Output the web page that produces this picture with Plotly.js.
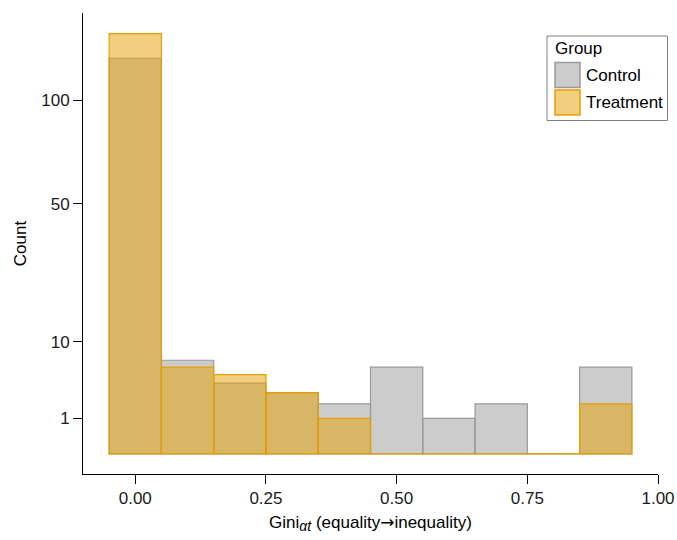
<!DOCTYPE html>
<html>
<head>
<meta charset="utf-8">
<script src="https://cdn.plot.ly/plotly-3.0.1.min.js"></script>
<style>html,body{margin:0;padding:0;background:#fff;}#chart{width:677px;height:540px;}</style>
</head>
<body>
<div id="chart"></div>
<script>
// Bin centres (bin width 0.1) of Gini_αt
const binCenters = [0.0, 0.1, 0.2, 0.3, 0.4, 0.5, 0.6, 0.7, 0.8, 0.9];
const controlCounts = [125, 7, 4, 3, 2, 6, 1, 2, 0, 6];
const treatmentCounts = [141, 6, 5, 3, 1, 0, 0, 0, 0, 2];
const groupNames = ["Control", "Treatment"];
const yTickValues = [1, 10, 50, 100];
const xTickValues = [0, 0.25, 0.5, 0.75, 1.0];
const xTickLabels = ["0.00", "0.25", "0.50", "0.75", "1.00"];

const FONT = "Liberation Sans, Arial, Helvetica, sans-serif";
const ctrlFill = "rgba(153,153,153,0.5)", ctrlLine = "#999999";
const trtFill = "rgba(230,159,0,0.5)", trtLine = "#E69F00";

const sqrt = v => Math.sqrt(v);

const traces = [
  {
    type: "bar", name: groupNames[0], x: binCenters, y: controlCounts.map(sqrt),
    width: 0.1, customdata: controlCounts,
    hovertemplate: "%{x}: %{customdata}<extra>Control</extra>",
    marker: {color: ctrlFill, line: {color: ctrlLine, width: 1.2}},
    showlegend: false
  },
  {
    type: "bar", name: groupNames[1], x: binCenters, y: treatmentCounts.map(sqrt),
    width: 0.1, customdata: treatmentCounts,
    hovertemplate: "%{x}: %{customdata}<extra>Treatment</extra>",
    marker: {color: trtFill, line: {color: trtLine, width: 1.2}},
    showlegend: false
  }
];

// manual legend (paper coords)
const L = 83, R = 658, T = 13, B = 474;
const px = v => (v - L) / (R - L);
const py = v => (B - v) / (B - T);

const shapes = [
  {type: "rect", xref: "paper", yref: "paper", x0: px(547), x1: px(667.5), y0: py(120.5), y1: py(36),
   line: {color: "#808080", width: 1}, fillcolor: "#ffffff"},
  {type: "rect", xref: "paper", yref: "paper", x0: px(555), x1: px(580), y0: py(87.5), y1: py(62.5),
   line: {color: ctrlLine, width: 1.5}, fillcolor: ctrlFill},
  {type: "rect", xref: "paper", yref: "paper", x0: px(555), x1: px(580), y0: py(115), y1: py(90),
   line: {color: trtLine, width: 1.5}, fillcolor: trtFill}
];
const annFont = {family: FONT, size: 17, color: "#000"};
const annotations = [
  {xref: "paper", yref: "paper", x: px(553), y: py(49), text: "Group", showarrow: false, xanchor: "left", yanchor: "middle", font: annFont},
  {xref: "paper", yref: "paper", x: px(584), y: py(75), text: groupNames[0], showarrow: false, xanchor: "left", yanchor: "middle", font: annFont},
  {xref: "paper", yref: "paper", x: px(584), y: py(102), text: groupNames[1], showarrow: false, xanchor: "left", yanchor: "middle", font: annFont}
];

const layout = {
  width: 677, height: 540,
  margin: {l: L, r: 677 - R, t: T, b: 540 - B},
  paper_bgcolor: "#fff", plot_bgcolor: "#fff",
  barmode: "overlay", bargap: 0,
  font: {family: FONT, size: 17, color: "#000"},
  showlegend: false,
  xaxis: {
    range: [-0.1, 1.0], tickvals: xTickValues, ticktext: xTickLabels,
    ticks: "outside", ticklen: 9, tickwidth: 1, tickcolor: "#000",
    showline: true, linecolor: "#000", linewidth: 1,
    showgrid: false, zeroline: false,
    tickfont: {family: FONT, size: 17, color: "#1a1a1a"},
    title: {text: "Gini<sub><span style=\"font-size:14px\"><i>αt</i></span></sub> (equality<span style=\"font-family:DejaVu Sans\">→</span>inequality)", font: {family: FONT, size: 17, color: "#000"}, standoff: 8}
  },
  yaxis: {
    range: [-0.57, 12.46], tickvals: yTickValues.map(sqrt), ticktext: yTickValues.map(String),
    ticks: "outside", ticklen: 9, tickwidth: 1, tickcolor: "#000",
    showline: true, linecolor: "#000", linewidth: 1,
    showgrid: false, zeroline: false,
    tickfont: {family: FONT, size: 17, color: "#1a1a1a"},
    title: {text: "Count", font: {family: FONT, size: 17, color: "#000"}, standoff: 10}
  },
  shapes: shapes,
  annotations: annotations
};

Plotly.newPlot("chart", traces, layout, {displayModeBar: false, staticPlot: true});
</script>
</body>
</html>
